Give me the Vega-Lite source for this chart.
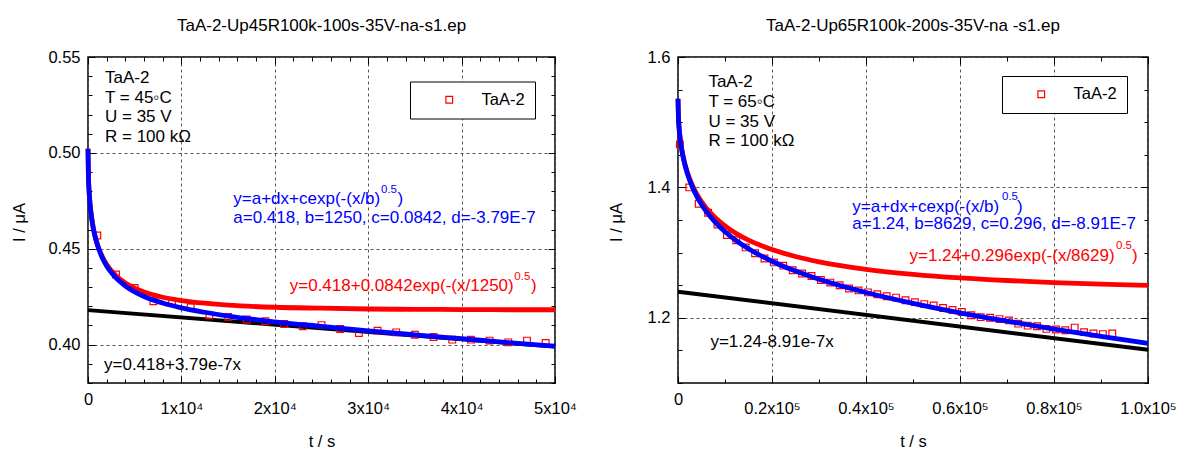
{
  "$schema": "https://vega.github.io/schema/vega-lite/v6.json",
  "background": "white",
  "padding": {"left": 10, "top": 16, "right": 5, "bottom": 5},
  "bounds": "flush",
  "spacing": 123,
  "config": {
    "font": "Liberation Sans",
    "view": {"stroke": "black", "strokeWidth": 1.5},
    "axis": {"domain": false, "labelFont": "Liberation Sans", "labelFontSize": 16.5, "labelColor": "black", "titleFont": "Liberation Sans", "titleFontSize": 16.5, "titleFontWeight": "normal", "titleColor": "black", "tickColor": "black", "tickWidth": 1, "gridColor": "#555555", "gridDash": [3, 3], "gridWidth": 1, "labelFlush": false, "labelOverlap": false},
    "title": {"font": "Liberation Sans", "fontSize": 17, "fontWeight": "normal", "color": "black", "offset": 14, "anchor": "middle"},
    "text": {"font": "Liberation Sans", "fontSize": 17, "align": "left", "baseline": "middle"}
  },
  "datasets": {
    "ptsL": [
      {"x": 1000, "y": 0.4569}, {"x": 3000, "y": 0.4366}, {"x": 5000, "y": 0.4296}, {"x": 7000, "y": 0.4226}, {"x": 9000, "y": 0.4221},
      {"x": 11000, "y": 0.4195}, {"x": 13000, "y": 0.4153}, {"x": 15000, "y": 0.4145}, {"x": 17000, "y": 0.4131}, {"x": 19000, "y": 0.4122},
      {"x": 21000, "y": 0.4108}, {"x": 23000, "y": 0.4096}, {"x": 25000, "y": 0.4102}, {"x": 27000, "y": 0.4082}, {"x": 29000, "y": 0.4061},
      {"x": 31000, "y": 0.4073}, {"x": 33000, "y": 0.4064}, {"x": 35000, "y": 0.4052}, {"x": 37000, "y": 0.4040}, {"x": 39000, "y": 0.4026},
      {"x": 41000, "y": 0.4026}, {"x": 43000, "y": 0.4021}, {"x": 45000, "y": 0.4012}, {"x": 47000, "y": 0.4021}, {"x": 49000, "y": 0.4009}
    ],
    "curvesL": [
      {"x": 0, "y": 0.5022, "c": "red"}, {"x": 50, "y": 0.4869, "c": "red"}, {"x": 100, "y": 0.4815, "c": "red"}, {"x": 200, "y": 0.4744, "c": "red"}, {"x": 300, "y": 0.4696, "c": "red"},
      {"x": 500, "y": 0.4627, "c": "red"}, {"x": 750, "y": 0.4568, "c": "red"}, {"x": 1000, "y": 0.4524, "c": "red"}, {"x": 1500, "y": 0.4462, "c": "red"}, {"x": 2000, "y": 0.4418, "c": "red"},
      {"x": 3000, "y": 0.4359, "c": "red"}, {"x": 4000, "y": 0.4321, "c": "red"}, {"x": 5000, "y": 0.4294, "c": "red"}, {"x": 6000, "y": 0.4274, "c": "red"}, {"x": 8000, "y": 0.4247, "c": "red"},
      {"x": 10000, "y": 0.4230, "c": "red"}, {"x": 12500, "y": 0.4216, "c": "red"}, {"x": 15000, "y": 0.4206, "c": "red"}, {"x": 20000, "y": 0.4195, "c": "red"}, {"x": 25000, "y": 0.4190, "c": "red"},
      {"x": 30000, "y": 0.4186, "c": "red"}, {"x": 35000, "y": 0.4184, "c": "red"}, {"x": 40000, "y": 0.4183, "c": "red"}, {"x": 45000, "y": 0.4182, "c": "red"}, {"x": 50000, "y": 0.4182, "c": "red"},
      {"x": 0, "y": 0.5022, "c": "blue"}, {"x": 50, "y": 0.4869, "c": "blue"}, {"x": 100, "y": 0.4815, "c": "blue"}, {"x": 200, "y": 0.4743, "c": "blue"}, {"x": 300, "y": 0.4695, "c": "blue"},
      {"x": 500, "y": 0.4625, "c": "blue"}, {"x": 750, "y": 0.4565, "c": "blue"}, {"x": 1000, "y": 0.4520, "c": "blue"}, {"x": 1500, "y": 0.4456, "c": "blue"}, {"x": 2000, "y": 0.4410, "c": "blue"},
      {"x": 3000, "y": 0.4348, "c": "blue"}, {"x": 4000, "y": 0.4306, "c": "blue"}, {"x": 5000, "y": 0.4275, "c": "blue"}, {"x": 6000, "y": 0.4251, "c": "blue"}, {"x": 8000, "y": 0.4217, "c": "blue"},
      {"x": 10000, "y": 0.4192, "c": "blue"}, {"x": 12500, "y": 0.4169, "c": "blue"}, {"x": 15000, "y": 0.4149, "c": "blue"}, {"x": 20000, "y": 0.4119, "c": "blue"}, {"x": 25000, "y": 0.4095, "c": "blue"},
      {"x": 30000, "y": 0.4072, "c": "blue"}, {"x": 35000, "y": 0.4051, "c": "blue"}, {"x": 40000, "y": 0.4031, "c": "blue"}, {"x": 45000, "y": 0.4011, "c": "blue"}, {"x": 50000, "y": 0.3992, "c": "blue"},
      {"x": 0, "y": 0.418, "c": "black"}, {"x": 50000, "y": 0.3990, "c": "black"}
    ],
    "notesL": [
      {"x": 1820, "y": 0.5390, "t": "TaA-2", "k": "black"},
      {"x": 1820, "y": 0.5285, "t": "T = 45◦C", "k": "black"},
      {"x": 1820, "y": 0.5189, "t": "U = 35 V", "k": "black"},
      {"x": 1820, "y": 0.5084, "t": "R = 100 kΩ", "k": "black"},
      {"x": 1713, "y": 0.3894, "t": "y=0.418+3.79e-7x", "k": "black"},
      {"x": 15557, "y": 0.4758, "t": "y=a+dx+cexp(-(x/b)", "k": "blue"},
      {"x": 33138, "y": 0.4758, "t": ")", "k": "blue"},
      {"x": 31372, "y": 0.4805, "t": "0.5", "k": "blueSup"},
      {"x": 15557, "y": 0.4660, "t": "a=0.418, b=1250, c=0.0842, d=-3.79E-7", "k": "blue"},
      {"x": 21600, "y": 0.4304, "t": "y=0.418+0.0842exp(-(x/1250)", "k": "red"},
      {"x": 47432, "y": 0.4304, "t": ")", "k": "red"},
      {"x": 45644, "y": 0.4354, "t": "0.5", "k": "redSup"}
    ],
    "ptsR": [
      {"x": 400, "y": 1.466}, {"x": 2400, "y": 1.400}, {"x": 4400, "y": 1.375}, {"x": 6400, "y": 1.361}, {"x": 8400, "y": 1.343},
      {"x": 10400, "y": 1.327}, {"x": 12400, "y": 1.319}, {"x": 14400, "y": 1.308}, {"x": 16400, "y": 1.299}, {"x": 18400, "y": 1.291},
      {"x": 20400, "y": 1.285}, {"x": 22400, "y": 1.280}, {"x": 24400, "y": 1.273}, {"x": 26400, "y": 1.268}, {"x": 28400, "y": 1.264},
      {"x": 30400, "y": 1.258}, {"x": 32400, "y": 1.254}, {"x": 34400, "y": 1.250}, {"x": 36400, "y": 1.245}, {"x": 38400, "y": 1.242},
      {"x": 40400, "y": 1.239}, {"x": 42400, "y": 1.236}, {"x": 44400, "y": 1.233}, {"x": 46400, "y": 1.231}, {"x": 48400, "y": 1.227},
      {"x": 50400, "y": 1.224}, {"x": 52400, "y": 1.221}, {"x": 54400, "y": 1.219}, {"x": 56400, "y": 1.215}, {"x": 58400, "y": 1.212},
      {"x": 60400, "y": 1.209}, {"x": 62400, "y": 1.204}, {"x": 64400, "y": 1.201}, {"x": 66400, "y": 1.200}, {"x": 68400, "y": 1.198},
      {"x": 70400, "y": 1.196}, {"x": 72400, "y": 1.191}, {"x": 74400, "y": 1.188}, {"x": 76400, "y": 1.187}, {"x": 78400, "y": 1.183},
      {"x": 80400, "y": 1.182}, {"x": 82400, "y": 1.181}, {"x": 84400, "y": 1.185}, {"x": 86400, "y": 1.178}, {"x": 88400, "y": 1.176},
      {"x": 90400, "y": 1.175}, {"x": 92400, "y": 1.176}
    ],
    "curvesR": [
      {"x": 0, "y": 1.536, "c": "red"}, {"x": 100, "y": 1.5058, "c": "red"}, {"x": 200, "y": 1.4942, "c": "red"}, {"x": 500, "y": 1.4727, "c": "red"}, {"x": 1000, "y": 1.4506, "c": "red"},
      {"x": 2000, "y": 1.4229, "c": "red"}, {"x": 3000, "y": 1.4041, "c": "red"}, {"x": 4000, "y": 1.3898, "c": "red"}, {"x": 6000, "y": 1.3686, "c": "red"}, {"x": 8000, "y": 1.3530, "c": "red"},
      {"x": 10000, "y": 1.3409, "c": "red"}, {"x": 12500, "y": 1.3288, "c": "red"}, {"x": 15000, "y": 1.3192, "c": "red"}, {"x": 20000, "y": 1.3046, "c": "red"}, {"x": 25000, "y": 1.2940, "c": "red"},
      {"x": 30000, "y": 1.2858, "c": "red"}, {"x": 40000, "y": 1.2744, "c": "red"}, {"x": 50000, "y": 1.2667, "c": "red"}, {"x": 60000, "y": 1.2612, "c": "red"}, {"x": 70000, "y": 1.2572, "c": "red"},
      {"x": 80000, "y": 1.2541, "c": "red"}, {"x": 90000, "y": 1.2517, "c": "red"}, {"x": 100000, "y": 1.2498, "c": "red"},
      {"x": 0, "y": 1.536, "c": "blue"}, {"x": 100, "y": 1.5057, "c": "blue"}, {"x": 200, "y": 1.4940, "c": "blue"}, {"x": 500, "y": 1.4723, "c": "blue"}, {"x": 1000, "y": 1.4497, "c": "blue"},
      {"x": 2000, "y": 1.4211, "c": "blue"}, {"x": 3000, "y": 1.4014, "c": "blue"}, {"x": 4000, "y": 1.3862, "c": "blue"}, {"x": 6000, "y": 1.3633, "c": "blue"}, {"x": 8000, "y": 1.3459, "c": "blue"},
      {"x": 10000, "y": 1.3320, "c": "blue"}, {"x": 12500, "y": 1.3177, "c": "blue"}, {"x": 15000, "y": 1.3058, "c": "blue"}, {"x": 20000, "y": 1.2868, "c": "blue"}, {"x": 25000, "y": 1.2717, "c": "blue"},
      {"x": 30000, "y": 1.2591, "c": "blue"}, {"x": 40000, "y": 1.2388, "c": "blue"}, {"x": 50000, "y": 1.2222, "c": "blue"}, {"x": 60000, "y": 1.2077, "c": "blue"}, {"x": 70000, "y": 1.1948, "c": "blue"},
      {"x": 80000, "y": 1.1828, "c": "blue"}, {"x": 90000, "y": 1.1715, "c": "blue"}, {"x": 100000, "y": 1.1607, "c": "blue"},
      {"x": 0, "y": 1.24, "c": "black"}, {"x": 100000, "y": 1.1509, "c": "black"}
    ],
    "notesR": [
      {"x": 6470, "y": 1.5616, "t": "TaA-2", "k": "black"},
      {"x": 6470, "y": 1.5310, "t": "T = 65◦C", "k": "black"},
      {"x": 6470, "y": 1.5004, "t": "U = 35 V", "k": "black"},
      {"x": 6470, "y": 1.4713, "t": "R = 100 kΩ", "k": "black"},
      {"x": 6894, "y": 1.1628, "t": "y=1.24-8.91e-7x", "k": "black"},
      {"x": 37085, "y": 1.3707, "t": "y=a+dx+cexp(-(x/b)", "k": "blue"},
      {"x": 72128, "y": 1.3707, "t": ")", "k": "blue"},
      {"x": 68936, "y": 1.3853, "t": "0.5", "k": "blueSup"},
      {"x": 37085, "y": 1.3442, "t": "a=1.24, b=8629, c=0.296, d=-8.91E-7", "k": "blue"},
      {"x": 49256, "y": 1.2948, "t": "y=1.24+0.296exp(-(x/8629)", "k": "red"},
      {"x": 96596, "y": 1.2948, "t": ")", "k": "red"},
      {"x": 93192, "y": 1.3094, "t": "0.5", "k": "redSup"}
    ]
  },
  "resolve": {"scale": {"color": "independent", "x": "independent", "y": "independent"}, "legend": {"color": "independent"}},
  "hconcat": [
    {
      "title": {"text": "TaA-2-Up45R100k-100s-35V-na-s1.ep"},
      "width": 467,
      "height": 326,
      "resolve": {"axis": {"x": "independent", "y": "independent"}},
      "layer": [
        {
          "data": {"name": "curvesL"},
          "transform": [{"filter": "datum.c === 'black'"}],
          "mark": {"type": "line", "color": "black", "strokeWidth": 4},
          "encoding": {
            "x": {"field": "x", "type": "quantitative", "scale": {"domain": [0, 50000]}, "axis": null},
            "y": {"field": "y", "type": "quantitative", "scale": {"domain": [0.38, 0.55]}, "axis": null}
          }
        },
        {
          "data": {"name": "curvesL"},
          "transform": [{"filter": "datum.c === 'red'"}],
          "mark": {"type": "line", "color": "#ff0000", "strokeWidth": 4.8, "interpolate": "monotone"},
          "encoding": {
            "x": {"field": "x", "type": "quantitative", "scale": {"domain": [0, 50000]},
              "axis": {"orient": "top", "labels": false, "title": null, "grid": false,
                "values": [0,2000,4000,6000,8000,10000,12000,14000,16000,18000,20000,22000,24000,26000,28000,30000,32000,34000,36000,38000,40000,42000,44000,46000,48000,50000],
                "tickSize": {"condition": {"test": "datum.value % 10000 === 0", "value": -7}, "value": -4}}},
            "y": {"field": "y", "type": "quantitative", "scale": {"domain": [0.38, 0.55]},
              "axis": {"orient": "right", "labels": false, "title": null, "grid": false,
                "values": [0.38,0.39,0.40,0.41,0.42,0.43,0.44,0.45,0.46,0.47,0.48,0.49,0.50,0.51,0.52,0.53,0.54,0.55],
                "tickSize": {"condition": {"test": "abs(datum.value*20 - round(datum.value*20)) < 0.001", "value": -7}, "value": -4}}}
          }
        },
        {
          "data": {"name": "ptsL"},
          "mark": {"type": "point", "shape": "square", "filled": false, "size": 45, "strokeWidth": 1.2, "opacity": 1},
          "encoding": {
            "x": {"field": "x", "type": "quantitative", "scale": {"domain": [0, 50000]},
              "axis": {"orient": "bottom", "title": "t / s", "titleX": 233.5, "titleY": 58, "titleBaseline": "middle", "titleAlign": "center",
                "values": [0,2000,4000,6000,8000,10000,12000,14000,16000,18000,20000,22000,24000,26000,28000,30000,32000,34000,36000,38000,40000,42000,44000,46000,48000,50000],
                "labelExpr": "datum.value === 0 ? '0' : (datum.value % 10000 === 0 ? (datum.value/10000) + 'x10⁴' : '')",
                "labelBaseline": "middle", "labelAlign": "center",
                "labelPadding": {"condition": {"test": "datum.value === 0", "value": 23}, "value": 32},
                "tickSize": {"condition": {"test": "datum.value % 10000 === 0", "value": -7}, "value": -4},
                "grid": true,
                "gridOpacity": {"condition": {"test": "datum.value % 10000 === 0", "value": 1}, "value": 0}}},
            "y": {"field": "y", "type": "quantitative", "scale": {"domain": [0.38, 0.55]},
              "axis": {"orient": "left", "title": "I / μA", "titleX": -69, "titleY": 165, "titleAngle": 270, "titleBaseline": "middle", "titleAlign": "center",
                "values": [0.38,0.39,0.40,0.41,0.42,0.43,0.44,0.45,0.46,0.47,0.48,0.49,0.50,0.51,0.52,0.53,0.54,0.55],
                "labelExpr": "abs(datum.value*20 - round(datum.value*20)) < 0.001 ? format(datum.value, '.2f') : ''",
                "labelPadding": 15,
                "tickSize": {"condition": {"test": "abs(datum.value*20 - round(datum.value*20)) < 0.001", "value": -7}, "value": -4},
                "grid": true,
                "gridOpacity": {"condition": {"test": "abs(datum.value*20 - round(datum.value*20)) < 0.001", "value": 1}, "value": 0}}},
            "color": {"datum": "TaA-2", "type": "nominal", "scale": {"range": ["#ff0000"]},
              "legend": {"orient": "none", "legendX": 322, "legendY": 24.5, "title": null, "padding": 10, "strokeColor": "black", "fillColor": "white",
                "symbolOffset": 21, "labelOffset": 24, "labelFontSize": 16.5, "labelFont": "Liberation Sans", "labelColor": "black", "symbolSize": 45, "symbolStrokeWidth": 1.2, "symbolType": "square", "symbolFillColor": "white"}}
          }
        },
        {
          "data": {"name": "curvesL"},
          "transform": [{"filter": "datum.c === 'blue'"}],
          "mark": {"type": "line", "color": "#0000ff", "strokeWidth": 4.8, "interpolate": "monotone"},
          "encoding": {
            "x": {"field": "x", "type": "quantitative", "scale": {"domain": [0, 50000]}, "axis": null},
            "y": {"field": "y", "type": "quantitative", "scale": {"domain": [0.38, 0.55]}, "axis": null}
          }
        },
        {
          "data": {"name": "notesL"},
          "transform": [{"filter": "datum.k === 'black'"}],
          "mark": {"type": "text", "color": "black"},
          "encoding": {
            "x": {"field": "x", "type": "quantitative", "scale": {"domain": [0, 50000]}, "axis": null},
            "y": {"field": "y", "type": "quantitative", "scale": {"domain": [0.38, 0.55]}, "axis": null},
            "text": {"field": "t"}
          }
        },
        {
          "data": {"name": "notesL"},
          "transform": [{"filter": "datum.k === 'blue'"}],
          "mark": {"type": "text", "color": "#0000ff"},
          "encoding": {
            "x": {"field": "x", "type": "quantitative", "scale": {"domain": [0, 50000]}, "axis": null},
            "y": {"field": "y", "type": "quantitative", "scale": {"domain": [0.38, 0.55]}, "axis": null},
            "text": {"field": "t"}
          }
        },
        {
          "data": {"name": "notesL"},
          "transform": [{"filter": "datum.k === 'blueSup'"}],
          "mark": {"type": "text", "color": "#0000ff", "fontSize": 11.5},
          "encoding": {
            "x": {"field": "x", "type": "quantitative", "scale": {"domain": [0, 50000]}, "axis": null},
            "y": {"field": "y", "type": "quantitative", "scale": {"domain": [0.38, 0.55]}, "axis": null},
            "text": {"field": "t"}
          }
        },
        {
          "data": {"name": "notesL"},
          "transform": [{"filter": "datum.k === 'red'"}],
          "mark": {"type": "text", "color": "#ff0000"},
          "encoding": {
            "x": {"field": "x", "type": "quantitative", "scale": {"domain": [0, 50000]}, "axis": null},
            "y": {"field": "y", "type": "quantitative", "scale": {"domain": [0.38, 0.55]}, "axis": null},
            "text": {"field": "t"}
          }
        },
        {
          "data": {"name": "notesL"},
          "transform": [{"filter": "datum.k === 'redSup'"}],
          "mark": {"type": "text", "color": "#ff0000", "fontSize": 11.5},
          "encoding": {
            "x": {"field": "x", "type": "quantitative", "scale": {"domain": [0, 50000]}, "axis": null},
            "y": {"field": "y", "type": "quantitative", "scale": {"domain": [0.38, 0.55]}, "axis": null},
            "text": {"field": "t"}
          }
        }
      ]
    },
    {
      "title": {"text": "TaA-2-Up65R100k-200s-35V-na -s1.ep"},
      "width": 470,
      "height": 326,
      "resolve": {"axis": {"x": "independent", "y": "independent"}},
      "layer": [
        {
          "data": {"name": "curvesR"},
          "transform": [{"filter": "datum.c === 'black'"}],
          "mark": {"type": "line", "color": "black", "strokeWidth": 4},
          "encoding": {
            "x": {"field": "x", "type": "quantitative", "scale": {"domain": [0, 100000]}, "axis": null},
            "y": {"field": "y", "type": "quantitative", "scale": {"domain": [1.1, 1.6]}, "axis": null}
          }
        },
        {
          "data": {"name": "curvesR"},
          "transform": [{"filter": "datum.c === 'red'"}],
          "mark": {"type": "line", "color": "#ff0000", "strokeWidth": 4.8, "interpolate": "monotone"},
          "encoding": {
            "x": {"field": "x", "type": "quantitative", "scale": {"domain": [0, 100000]},
              "axis": {"orient": "top", "labels": false, "title": null, "grid": false,
                "values": [0,10000,20000,30000,40000,50000,60000,70000,80000,90000,100000],
                "tickSize": {"condition": {"test": "datum.value % 20000 === 0", "value": -7}, "value": -4}}},
            "y": {"field": "y", "type": "quantitative", "scale": {"domain": [1.1, 1.6]},
              "axis": {"orient": "right", "labels": false, "title": null, "grid": false,
                "values": [1.1,1.15,1.2,1.25,1.3,1.35,1.4,1.45,1.5,1.55,1.6],
                "tickSize": {"condition": {"test": "abs(datum.value*5 - round(datum.value*5)) < 0.001", "value": -7}, "value": -4}}}
          }
        },
        {
          "data": {"name": "ptsR"},
          "mark": {"type": "point", "shape": "square", "filled": false, "size": 45, "strokeWidth": 1.2, "opacity": 1},
          "encoding": {
            "x": {"field": "x", "type": "quantitative", "scale": {"domain": [0, 100000]},
              "axis": {"orient": "bottom", "title": "t / s", "titleX": 235, "titleY": 58, "titleBaseline": "middle", "titleAlign": "center",
                "values": [0,10000,20000,30000,40000,50000,60000,70000,80000,90000,100000],
                "labelExpr": "datum.value === 0 ? '0' : (datum.value % 20000 === 0 ? format(datum.value/100000, '.1f') + 'x10⁵' : '')",
                "labelBaseline": "middle", "labelAlign": "center",
                "labelPadding": {"condition": {"test": "datum.value === 0", "value": 23}, "value": 32},
                "tickSize": {"condition": {"test": "datum.value % 20000 === 0", "value": -7}, "value": -4},
                "grid": true,
                "gridOpacity": {"condition": {"test": "datum.value % 20000 === 0", "value": 1}, "value": 0}}},
            "y": {"field": "y", "type": "quantitative", "scale": {"domain": [1.1, 1.6]},
              "axis": {"orient": "left", "title": "I / μA", "titleX": -62, "titleY": 165, "titleAngle": 270, "titleBaseline": "middle", "titleAlign": "center",
                "values": [1.1,1.15,1.2,1.25,1.3,1.35,1.4,1.45,1.5,1.55,1.6],
                "labelExpr": "abs(datum.value*5 - round(datum.value*5)) < 0.001 ? format(datum.value, '.1f') : ''",
                "labelPadding": 15,
                "tickSize": {"condition": {"test": "abs(datum.value*5 - round(datum.value*5)) < 0.001", "value": -7}, "value": -4},
                "grid": true,
                "gridOpacity": {"condition": {"test": "abs(datum.value*5 - round(datum.value*5)) < 0.001", "value": 1}, "value": 0}}},
            "color": {"datum": "TaA-2", "type": "nominal", "scale": {"range": ["#ff0000"]},
              "legend": {"orient": "none", "legendX": 324, "legendY": 19, "title": null, "padding": 10, "strokeColor": "black", "fillColor": "white",
                "symbolOffset": 21, "labelOffset": 24, "labelFontSize": 16.5, "labelFont": "Liberation Sans", "labelColor": "black", "symbolSize": 45, "symbolStrokeWidth": 1.2, "symbolType": "square", "symbolFillColor": "white"}}
          }
        },
        {
          "data": {"name": "curvesR"},
          "transform": [{"filter": "datum.c === 'blue'"}],
          "mark": {"type": "line", "color": "#0000ff", "strokeWidth": 4.8, "interpolate": "monotone"},
          "encoding": {
            "x": {"field": "x", "type": "quantitative", "scale": {"domain": [0, 100000]}, "axis": null},
            "y": {"field": "y", "type": "quantitative", "scale": {"domain": [1.1, 1.6]}, "axis": null}
          }
        },
        {
          "data": {"name": "notesR"},
          "transform": [{"filter": "datum.k === 'black'"}],
          "mark": {"type": "text", "color": "black"},
          "encoding": {
            "x": {"field": "x", "type": "quantitative", "scale": {"domain": [0, 100000]}, "axis": null},
            "y": {"field": "y", "type": "quantitative", "scale": {"domain": [1.1, 1.6]}, "axis": null},
            "text": {"field": "t"}
          }
        },
        {
          "data": {"name": "notesR"},
          "transform": [{"filter": "datum.k === 'blue'"}],
          "mark": {"type": "text", "color": "#0000ff"},
          "encoding": {
            "x": {"field": "x", "type": "quantitative", "scale": {"domain": [0, 100000]}, "axis": null},
            "y": {"field": "y", "type": "quantitative", "scale": {"domain": [1.1, 1.6]}, "axis": null},
            "text": {"field": "t"}
          }
        },
        {
          "data": {"name": "notesR"},
          "transform": [{"filter": "datum.k === 'blueSup'"}],
          "mark": {"type": "text", "color": "#0000ff", "fontSize": 11.5},
          "encoding": {
            "x": {"field": "x", "type": "quantitative", "scale": {"domain": [0, 100000]}, "axis": null},
            "y": {"field": "y", "type": "quantitative", "scale": {"domain": [1.1, 1.6]}, "axis": null},
            "text": {"field": "t"}
          }
        },
        {
          "data": {"name": "notesR"},
          "transform": [{"filter": "datum.k === 'red'"}],
          "mark": {"type": "text", "color": "#ff0000"},
          "encoding": {
            "x": {"field": "x", "type": "quantitative", "scale": {"domain": [0, 100000]}, "axis": null},
            "y": {"field": "y", "type": "quantitative", "scale": {"domain": [1.1, 1.6]}, "axis": null},
            "text": {"field": "t"}
          }
        },
        {
          "data": {"name": "notesR"},
          "transform": [{"filter": "datum.k === 'redSup'"}],
          "mark": {"type": "text", "color": "#ff0000", "fontSize": 11.5},
          "encoding": {
            "x": {"field": "x", "type": "quantitative", "scale": {"domain": [0, 100000]}, "axis": null},
            "y": {"field": "y", "type": "quantitative", "scale": {"domain": [1.1, 1.6]}, "axis": null},
            "text": {"field": "t"}
          }
        }
      ]
    }
  ]
}
